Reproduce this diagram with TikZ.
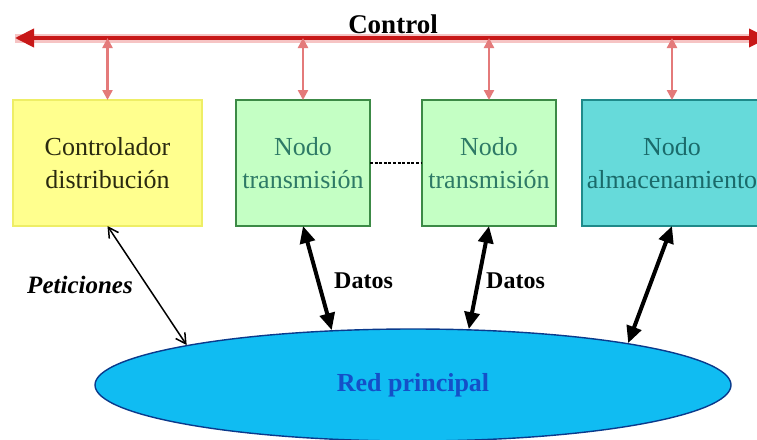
\documentclass[tikz,border=0pt]{standalone}
\usepackage{fontspec}
\setmainfont{Liberation Serif}
\usetikzlibrary{arrows.meta,shapes.geometric}
\definecolor{ctlred}{HTML}{C81818}
\definecolor{ctlhalo}{HTML}{F6C4C4}
\definecolor{linkpink}{HTML}{E47A7A}
\definecolor{yelfill}{HTML}{FFFF8E}
\definecolor{yeldraw}{HTML}{EEEE66}
\definecolor{yeltext}{HTML}{2A2A10}
\definecolor{grnfill}{HTML}{C4FFC4}
\definecolor{grndraw}{HTML}{3C8A46}
\definecolor{grntext}{HTML}{2E7A66}
\definecolor{tealfill}{HTML}{66DADA}
\definecolor{tealdraw}{HTML}{1F8A8A}
\definecolor{tealtext}{HTML}{1A6A6A}
\definecolor{netfill}{HTML}{10BCF2}
\definecolor{netdraw}{HTML}{0A3A8C}
\definecolor{nettext}{HTML}{1450C8}
\tikzset{
  boxbase/.style={rectangle, minimum height=126pt, inner sep=0pt, outer sep=0pt,
    align=center, font=\fontsize{26}{33}\selectfont, line width=1.6pt},
  ctrlbox/.style={boxbase, fill=yelfill, draw=yeldraw, text=yeltext, minimum width=189pt},
  txbox/.style={boxbase, fill=grnfill, draw=grndraw, text=grntext, minimum width=134pt},
  storebox/.style={boxbase, fill=tealfill, draw=tealdraw, text=tealtext, minimum width=180pt},
  netnode/.style={ellipse, minimum width=636pt, minimum height=112pt, inner sep=0pt,
    fill=netfill, draw=netdraw, line width=1.4pt, text=nettext,
    font=\fontsize{26}{30}\selectfont\bfseries},
  ctlline/.style={ctlred, line width=4pt, {Triangle[length=19pt,width=18pt]}-{Triangle[length=19pt,width=18pt]}},
  ctlhaloline/.style={ctlhalo, line width=9pt},
  ctllink/.style={linkpink, line width=2.4pt, {Triangle[length=10pt,width=10pt]}-{Triangle[length=10pt,width=10pt]}},
  datalink/.style={black, line width=4pt, {Triangle[length=17pt,width=15pt]}-{Triangle[length=17pt,width=15pt]}},
  reqlink/.style={black, line width=1.5pt, {Straight Barb[length=10pt,width=11pt]}-{Straight Barb[length=10pt,width=11pt]}},
  lbl/.style={font=\fontsize{24}{28}\selectfont\bfseries, inner sep=0pt},
}
\begin{document}
\begin{tikzpicture}[x=1pt, y=-1pt]
\useasboundingbox (0,0) rectangle (757,439);
\fill[white] (0,0) rectangle (757,439);

% control bus
\coordinate (cl) at (15,38);
\coordinate (cr) at (768,38);
\draw[ctlhaloline] (cl) -- (cr);
\draw[ctlline] (cl) -- (cr);
\node[lbl, anchor=base, font=\fontsize{27}{30}\selectfont\bfseries] (ctltxt) at (393,33) {Control};

% main network
\node[netnode] (red) at (413,385) {Red principal};

% nodes
\node[ctrlbox] (ctrl) at (107.5,163) {Controlador\\distribución};
\node[txbox] (tx1) at (303,163) {Nodo\\transmisión};
\node[txbox] (tx2) at (489,163) {Nodo\\transmisión};
\node[storebox] (alm) at (672,163) {Nodo\\almacenamiento};

% links to the control bus
\foreach \n in {ctrl,tx1,tx2,alm}
  \draw[ctllink] (\n.north) -- (\n.north |- cl);

% chain of transmission nodes
\draw[black, line width=2.8pt, dash pattern=on 3pt off 1.6pt] (tx1.east) -- (tx2.west);

% links to the main network
\draw[reqlink] (ctrl.south) -- (red.170);
\draw[datalink] (tx1.south) -- (red.146);
\draw[datalink] (tx2.south) -- (red.45.6);
\draw[datalink] (alm.south) -- (red.11.8);

% link labels
\node[lbl, font=\fontsize{25}{28}\selectfont\bfseries\itshape] (pet) at (80,285) {Peticiones};
\node[lbl, anchor=west] (d1) at (334,281) {Datos};
\node[lbl, anchor=west] (d2) at (486,281) {Datos};
\end{tikzpicture}
\end{document}
